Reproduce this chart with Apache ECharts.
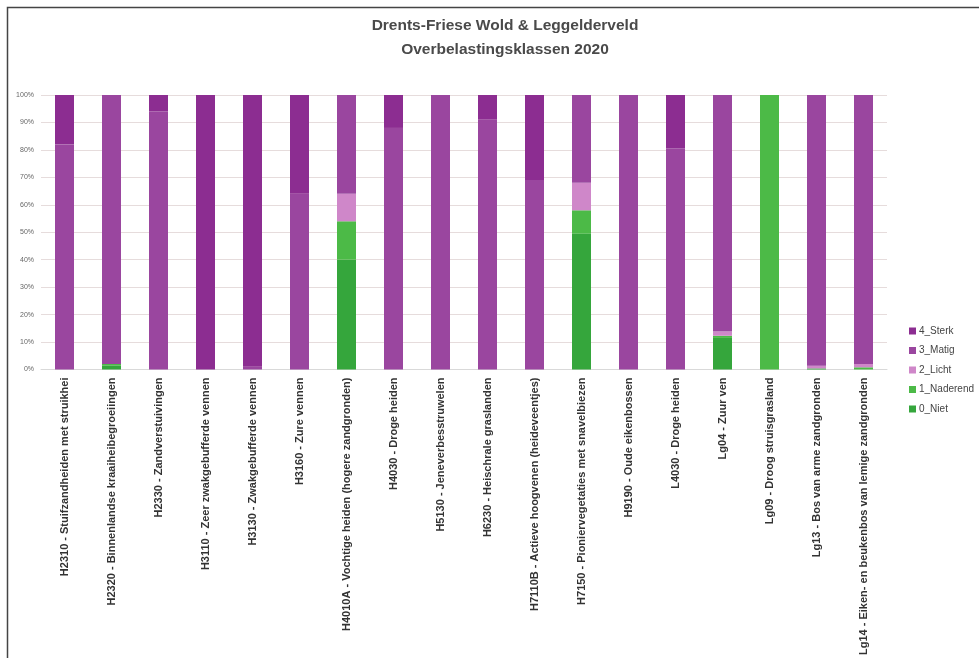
<!DOCTYPE html>
<html><head><meta charset="utf-8">
<script src="https://cdn.jsdelivr.net/npm/echarts@6/dist/echarts.min.js"></script>
<style>html,body{margin:0;padding:0;background:#fff}#c{width:979px;height:658px}</style>
</head><body><div id="c"></div>
<script>
const categories = [
  "H2310 - Stuifzandheiden met struikhei",
  "H2320 - Binnenlandse kraaiheibegroeiingen",
  "H2330 - Zandverstuivingen",
  "H3110 - Zeer zwakgebufferde vennen",
  "H3130 - Zwakgebufferde vennen",
  "H3160 - Zure vennen",
  "H4010A - Vochtige heiden (hogere zandgronden)",
  "H4030 - Droge heiden",
  "H5130 - Jeneverbesstruwelen",
  "H6230 - Heischrale graslanden",
  "H7110B - Actieve hoogvenen (heideveentjes)",
  "H7150 - Pioniervegetaties met snavelbiezen",
  "H9190 - Oude eikenbossen",
  "L4030 - Droge heiden",
  "Lg04 - Zuur ven",
  "Lg09 - Droog struisgrasland",
  "Lg13 - Bos van arme zandgronden",
  "Lg14 - Eiken- en beukenbos van lemige zandgronden"
];
const niet      = [0, 1.5, 0, 0, 0, 0, 40, 0, 0, 0, 0, 49.5, 0, 0, 11.5, 0, 0.4, 0];
const naderend  = [0, 0.5, 0, 0, 0, 0, 14, 0, 0, 0, 0, 8.5, 0, 0, 0.8, 100, 0, 0.8];
const licht     = [0, 0, 0, 0, 0, 0, 10, 0, 0, 0, 0, 10, 0, 0, 1.5, 0, 1, 1.2];
const matig     = [82, 98, 94, 0, 1, 64, 36, 88, 100, 91, 69, 32, 100, 80.5, 86.2, 0, 98.6, 98];
const sterk     = [18, 0, 6, 100, 99, 36, 0, 12, 0, 9, 31, 0, 0, 19.5, 0, 0, 0, 0];
const yTicks = [0,10,20,30,40,50,60,70,80,90,100];

const colors = {"4_Sterk":"#8c2d91","3_Matig":"#9a469f","2_Licht":"#cf87c9","1_Naderend":"#4cba47","0_Niet":"#35a63c"};
const seriesDefs = [["0_Niet",niet],["1_Naderend",naderend],["2_Licht",licht],["3_Matig",matig],["4_Sterk",sterk]];

const chart = echarts.init(document.getElementById('c'), null, {renderer:'canvas'});
chart.setOption({
  animation:false,
  backgroundColor:'#fff',
  textStyle:{fontFamily:'Liberation Sans, Arial, sans-serif'},
  title:{
    text:'Drents-Friese Wold & Leggelderveld\nOverbelastingsklassen 2020',
    left:500, top:9, textAlign:'center',
    textStyle:{fontSize:15.5, fontWeight:'bold', color:'#4a4a4a', lineHeight:24, fontFamily:'Liberation Sans, Arial, sans-serif'}
  },
  graphic:[{type:'rect', shape:{x:7.5,y:7.5,width:1000,height:700}, style:{fill:'none', stroke:'#444', lineWidth:1.5}, silent:true}],
  legend:{
    orient:'vertical', left:904, top:321, itemWidth:7, itemHeight:7, itemGap:9.5,
    icon:'rect',
    data:['4_Sterk','3_Matig','2_Licht','1_Naderend','0_Niet'],
    textStyle:{fontSize:10, color:'#444', padding:[0,0,0,-2]}
  },
  grid:{left:41, right:92, top:95, bottom:288, containLabel:false},
  xAxis:{
    type:'category', data:categories,
    axisLine:{lineStyle:{color:'#d9d9d9'}},
    axisTick:{show:false},
    axisLabel:{rotate:90, interval:0, fontSize:11, color:'#333', fontWeight:'bold', margin:8}
  },
  yAxis:{
    type:'value', min:0, max:100, interval:10,
    axisLine:{show:false}, axisTick:{show:false},
    axisLabel:{formatter:v=>v+'%', fontSize:7, color:'#666', margin:7},
    splitLine:{lineStyle:{color:'#e6dcdc'}}
  },
  series: seriesDefs.map(([name,vals])=>({
    name, type:'bar', stack:'t', barWidth:19, data:vals,
    itemStyle:{color:colors[name]}
  }))
});
</script></body></html>
